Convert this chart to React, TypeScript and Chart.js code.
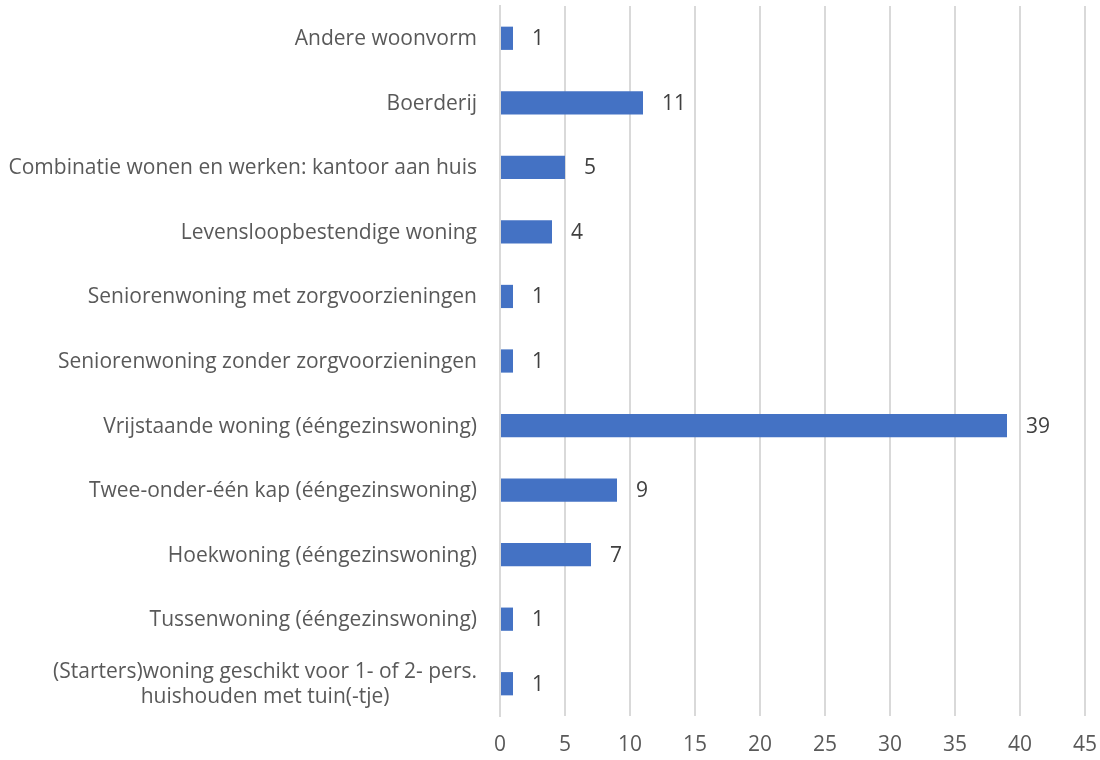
import React, { useEffect, useRef } from "react";
import { Chart, registerables } from "chart.js";

Chart.register(...registerables);

const categories: (string | string[])[] = [
  "Andere woonvorm",
  "Boerderij",
  "Combinatie wonen en werken: kantoor aan huis",
  "Levensloopbestendige woning",
  "Seniorenwoning met zorgvoorzieningen",
  "Seniorenwoning zonder zorgvoorzieningen",
  "Vrijstaande woning (ééngezinswoning)",
  "Twee-onder-één kap (ééngezinswoning)",
  "Hoekwoning (ééngezinswoning)",
  "Tussenwoning (ééngezinswoning)",
  ["(Starters)woning geschikt voor 1- of 2- pers.", "huishouden met tuin(-tje)"],
];
const values = [1, 11, 5, 4, 1, 1, 39, 9, 7, 1, 1];
const xMax = 45;
const xStep = 5;

const FONT = "'Open Sans', sans-serif";
const FSIZE = 21;

const valueLabels = {
  id: "valueLabels",
  afterDatasetsDraw(chart: any) {
    const ctx = chart.ctx;
    const meta = chart.getDatasetMeta(0);
    ctx.save();
    ctx.font = `${FSIZE}px ${FONT}`;
    ctx.fillStyle = "#404040";
    ctx.textAlign = "left";
    ctx.textBaseline = "middle";
    meta.data.forEach((bar: any, i: number) => {
      ctx.fillText(String(chart.data.datasets[0].data[i]), bar.x + 19, bar.y + 1);
    });
    ctx.restore();
  },
};

const categoryLabels = {
  id: "categoryLabels",
  afterDraw(chart: any) {
    const ctx = chart.ctx;
    const yScale = chart.scales.y;
    const right = chart.chartArea.left - 23;
    ctx.save();
    ctx.font = `${FSIZE}px ${FONT}`;
    ctx.fillStyle = "#595959";
    ctx.textBaseline = "middle";
    (chart.data.labels as (string | string[])[]).forEach((lab, i) => {
      const y = yScale.getPixelForValue(i);
      const lines = Array.isArray(lab) ? lab : [lab];
      const maxW = Math.max(...lines.map((l) => ctx.measureText(l).width));
      const cx = right - maxW / 2;
      const lh = 25;
      lines.forEach((l, j) => {
        ctx.textAlign = "center";
        ctx.fillText(l, cx, y + 1 + (j - (lines.length - 1) / 2) * lh);
      });
    });
    ctx.restore();
  },
};

export default function App() {
  const ref = useRef<HTMLCanvasElement>(null);
  useEffect(() => {
    document.body.style.margin = "0";
    const chart = new Chart(ref.current!, {
      type: "bar",
      data: {
        labels: categories,
        datasets: [
          {
            data: values,
            backgroundColor: "#4472C4",
            barPercentage: 0.36,
            categoryPercentage: 1,
          },
        ],
      },
      options: {
        indexAxis: "y",
        animation: false,
        responsive: false,
        layout: { padding: { top: 6, right: 15, left: 0, bottom: 0 } },
        plugins: { legend: { display: false }, tooltip: { enabled: false } },
        scales: {
          x: {
            min: 0,
            max: xMax,
            ticks: {
              stepSize: xStep,
              color: "#595959",
              font: { family: FONT, size: FSIZE },
              padding: 16,
            },
            grid: { color: "#d9d9d9", lineWidth: 2, drawTicks: false },
            border: { display: false },
            afterFit: (s: any) => {
              s.height = 44;
              s.paddingRight = 0;
              s.paddingLeft = 0;
            },
          },
          y: {
            ticks: { display: false },
            grid: { display: false, drawTicks: false },
            border: { display: true, color: "#d9d9d9", width: 2 },
            afterFit: (s: any) => {
              s.width = 500;
            },
          },
        },
      },
      plugins: [valueLabels, categoryLabels],
    });
    return () => chart.destroy();
  }, []);
  return (
    <div style={{ width: 1100, height: 760 }}>
      <canvas ref={ref} width={1100} height={760} />
    </div>
  );
}
